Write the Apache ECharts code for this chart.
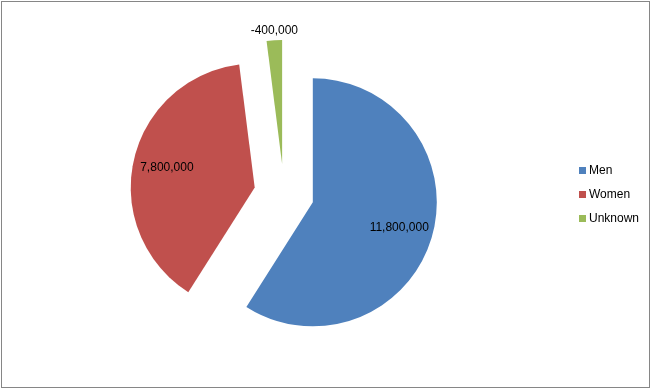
<!DOCTYPE html>
<html>
<head>
<meta charset="utf-8">
<script src="https://cdn.jsdelivr.net/npm/echarts@6/dist/echarts.min.js"></script>
<style>
  html, body { margin: 0; padding: 0; background: #fff; }
  #chart { position: absolute; left: 0; top: 0; width: 652px; height: 389px; }
  #frame { position: absolute; left: 1px; top: 1px; width: 647px; height: 385px; border: 1px solid #868686; pointer-events: none; }
</style>
</head>
<body>
<div id="chart"></div>
<div id="frame"></div>
<script>
const categories = ['Men', 'Women', 'Unknown'];
const values = [11800000, 7800000, -400000];
const colors = ['#4F81BD', '#C0504D', '#9BBB59'];
const insideLabel = [true, true, false];

const fmt = v => v.toLocaleString('en-US');
const font = 'Liberation Sans, Arial, sans-serif';

const mainData = categories.map((name, i) => ({
  name: name,
  value: Math.abs(values[i]),
  rawValue: values[i],
  selected: true,
  itemStyle: { color: colors[i] },
  label: { show: !insideLabel[i] }
}));

const labelData = categories.map((name, i) => ({
  name: name,
  value: Math.abs(values[i]),
  rawValue: values[i],
  selected: true,
  itemStyle: { color: 'rgba(0,0,0,0)' },
  label: { show: insideLabel[i] }
}));

const chart = echarts.init(document.getElementById('chart'), null, { renderer: 'canvas' });
chart.setOption({
  animation: false,
  backgroundColor: '#fff',
  legend: {
    orient: 'vertical',
    left: 574,
    top: 'middle',
    icon: 'rect',
    itemWidth: 7,
    itemHeight: 7,
    itemGap: 12,
    data: categories,
    textStyle: { fontFamily: font, fontSize: 12, color: '#000', padding: [0, 0, 0, -2] },
    selectedMode: false
  },
  series: [
    {
      type: 'pie',
      center: [284, 194],
      radius: [0, 124],
      startAngle: 90,
      clockwise: true,
      selectedMode: 'multiple',
      selectedOffset: 30,
      avoidLabelOverlap: false,
      emphasis: { disabled: true },
      data: mainData,
      label: {
        position: 'outside',
        distanceToLabelLine: 0,
        fontFamily: font,
        fontSize: 12,
        color: '#000',
        formatter: p => fmt(p.data.rawValue)
      },
      labelLine: { show: false, length: 0, length2: 0 },
      labelLayout: function () {
        return { align: 'center', verticalAlign: 'bottom', dy: -4 };
      }
    },
    {
      type: 'pie',
      center: [284, 194],
      radius: [0, 174],
      startAngle: 90,
      clockwise: true,
      silent: true,
      selectedMode: 'multiple',
      selectedOffset: 30,
      emphasis: { disabled: true },
      data: labelData,
      label: {
        position: 'inside',
        fontFamily: font,
        fontSize: 12,
        color: '#000',
        formatter: p => fmt(p.data.rawValue)
      },
      labelLine: { show: false }
    }
  ]
});
</script>
</body>
</html>
